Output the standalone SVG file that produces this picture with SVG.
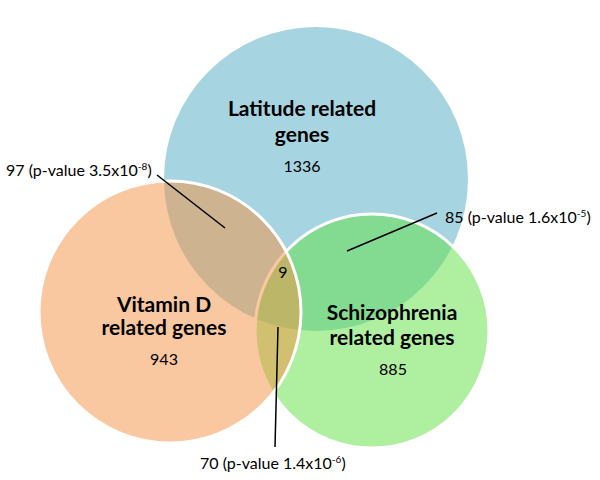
<svg xmlns="http://www.w3.org/2000/svg" width="600" height="480" viewBox="0 0 600 480">
<style>
.t{font-family:Lato,"Open Sans","Liberation Sans",sans-serif;fill:#000}
.b{font-weight:bold;font-size:21px}
.n{font-size:16px}
.l{font-size:16px}
.c{stroke:#fff;stroke-width:3}
.ld{stroke:#000;stroke-width:1.5;fill:none}
</style>
<g id="latitude">
<circle cx="316" cy="179" r="152" fill="#a6d4e0"/>
</g>
<g id="schizophrenia">
<circle cx="372" cy="331" r="117" fill="#5fdf41" fill-opacity="0.5" class="c"/>
</g>
<g id="vitamind">
<circle cx="170" cy="312" r="131" fill="#f59141" fill-opacity="0.5" class="c"/>
</g>
<g id="labels">
<text class="t b" x="302" y="116" text-anchor="middle">Latitude related</text>
<text class="t b" x="302" y="142" text-anchor="middle">genes</text>
<text class="t n" x="302" y="172" text-anchor="middle">1336</text>
<text class="t b" x="164" y="312" text-anchor="middle">Vitamin D</text>
<text class="t b" x="164" y="335" text-anchor="middle">related genes</text>
<text class="t n" x="164" y="365" text-anchor="middle">943</text>
<text class="t b" x="392" y="320" text-anchor="middle">Schizophrenia</text>
<text class="t b" x="392" y="345" text-anchor="middle">related genes</text>
<text class="t n" x="393" y="375" text-anchor="middle">885</text>
<text class="t n" x="283" y="278" text-anchor="middle">9</text>
<text class="t l" x="6" y="176">97 (p-value 3.5x10<tspan font-size="10" dy="-6">-8</tspan><tspan dy="6">)</tspan></text>
<text class="t l" x="445" y="223">85 (p-value 1.6x10<tspan font-size="10" dy="-6">-5</tspan><tspan dy="6">)</tspan></text>
<text class="t l" x="200" y="469">70 (p-value 1.4x10<tspan font-size="10" dy="-6">-6</tspan><tspan dy="6">)</tspan></text>
</g>
<g id="connectors">
<line class="ld" x1="157" y1="175" x2="225" y2="228"/>
<line class="ld" x1="437" y1="213" x2="347" y2="251"/>
<line class="ld" x1="278" y1="327" x2="275" y2="447"/>
</g>
</svg>
